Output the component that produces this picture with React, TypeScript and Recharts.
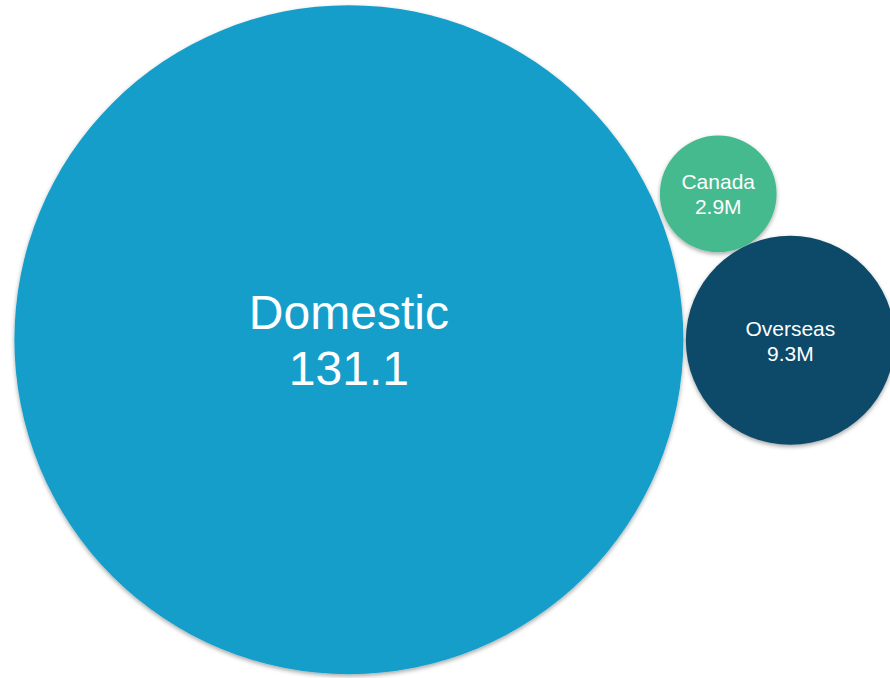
import React from 'react';
import { ScatterChart, Scatter, XAxis, YAxis, ZAxis, Cell } from 'recharts';

// ---- data ----
const categories = ['Domestic', 'Canada', 'Overseas'];
const labelValues = [131.1, 2.9, 9.3];
const labelUnits = ['', 'M', 'M'];
const xValues = [39.2, 80.7, 88.8];
const yValues = [49.9, 71.4, 49.8];
const bubbleSizes = [95.3, 2.9, 9.3];

// ---- styles ----
const COLORS = ['#189ECB', '#45BA8E', '#0E4A68'];
const FONT_SIZES = [48, 21, 21];
const LINE_HEIGHTS = [56, 25, 25];
const W = 890;
const H = 678;

const data = categories.map((name, i) => ({
  name,
  x: xValues[i],
  y: yValues[i],
  size: bubbleSizes[i],
  label: `${labelValues[i]}${labelUnits[i]}`,
  idx: i,
}));

const BubbleShape = (props: any) => {
  const { cx, cy, width, fill, payload } = props;
  const r = width / 2;
  const i = payload.idx;
  const fs = FONT_SIZES[i];
  const lh = LINE_HEIGHTS[i];
  const lines = [payload.name, payload.label];
  const cap = fs * 0.716;
  return (
    <g>
      <circle cx={cx} cy={cy} r={r} fill={fill} filter="url(#bubbleShadow)" />
      {lines.map((t, k) => (
        <text
          key={k}
          x={cx}
          y={cy + (k - (lines.length - 1) / 2) * lh + cap / 2 + 0.5}
          textAnchor="middle"
          fill="#ffffff"
          fontSize={fs}
          fontFamily="'Liberation Sans', Arial, sans-serif"
        >
          {t}
        </text>
      ))}
    </g>
  );
};

export default function App() {
  return (
    <div style={{ position: 'absolute', left: 0, top: 0, width: W, height: H, background: '#ffffff', overflow: 'hidden' }}>
      <ScatterChart width={W} height={H} margin={{ top: 0, right: 0, bottom: 0, left: 0 }}>
        <defs>
          <filter id="bubbleShadow" x="-10%" y="-10%" width="120%" height="120%">
            <feDropShadow dx="0" dy="2" stdDeviation="2.2" floodColor="#000000" floodOpacity="0.35" />
          </filter>
        </defs>
        <XAxis type="number" dataKey="x" domain={[0, 100]} hide />
        <YAxis type="number" dataKey="y" domain={[0, 100]} hide />
        <ZAxis type="number" dataKey="size" domain={[0, 95.3]} range={[0, Math.PI * 334.5 * 334.5]} />
        <Scatter data={data} shape={<BubbleShape />} isAnimationActive={false}>
          {data.map((d, i) => (
            <Cell key={d.name} fill={COLORS[i]} />
          ))}
        </Scatter>
      </ScatterChart>
    </div>
  );
}
